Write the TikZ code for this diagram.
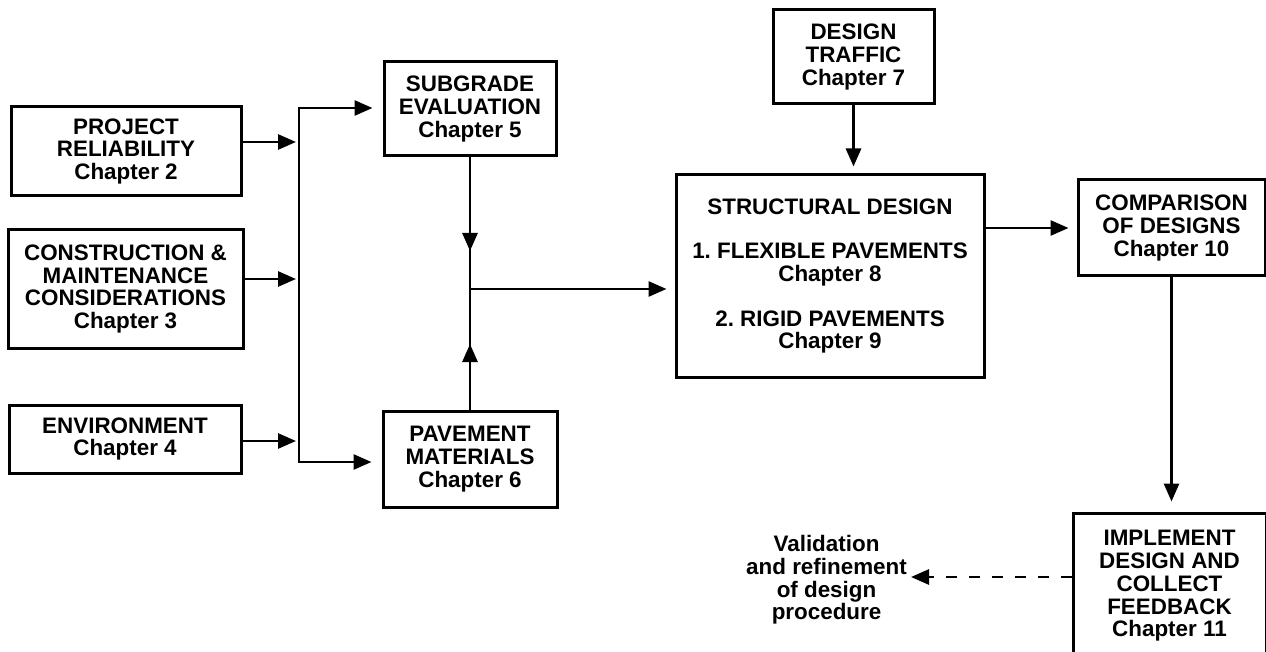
\documentclass[tikz,border=0pt]{standalone}
\usepackage{fontspec}
\setmainfont{Liberation Sans}
\usetikzlibrary{arrows.meta}
\tikzset{
  box/.style={draw, line width=3pt, align=center, inner sep=2pt, font=\bfseries\fontsize{22.4}{22.7}\selectfont},
  ln/.style={line width=2.8pt},
  arr/.style={line width=2.8pt, -{Triangle[length=18pt,width=15pt]}},
  txt/.style={align=center, inner sep=4pt, font=\bfseries\fontsize{22.4}{22.7}\selectfont},
}
\begin{document}
\frenchspacing
\begin{tikzpicture}[x=1pt,y=-1pt]
\useasboundingbox (0,0) rectangle (1266,652);
\clip (0,0) rectangle (1266,652);
\fill[white] (0,0) rectangle (1266,652);
% boxes
\node[box, minimum width=230pt, minimum height=89pt] (rel) at (126,151.5) {PROJECT\\RELIABILITY\\Chapter 2};
\node[box, minimum width=235pt, minimum height=118pt] (con) at (125.5,289) {CONSTRUCTION \&\\MAINTENANCE\\CONSIDERATIONS\\Chapter 3};
\node[box, minimum width=232pt, minimum height=68pt] (env) at (125,439) {ENVIRONMENT\\Chapter 4};
\node[box, minimum width=172pt, minimum height=94pt] (sub) at (470,109) {SUBGRADE\\EVALUATION\\Chapter 5};
\node[box, minimum width=174pt, minimum height=96pt] (pav) at (470,459) {PAVEMENT\\MATERIALS\\Chapter 6};
\node[box, minimum width=161pt, minimum height=94pt] (traf) at (853.5,57) {DESIGN\\TRAFFIC\\Chapter 7};
\node[box, minimum width=308pt, minimum height=202pt] (str) at (830,276) {STRUCTURAL DESIGN\\[22pt]1. FLEXIBLE PAVEMENTS\\Chapter 8\\[22pt]2. RIGID PAVEMENTS\\Chapter 9};
\node[box, minimum width=187pt, minimum height=96pt] (cmp) at (1171.5,228) {COMPARISON\\OF DESIGNS\\Chapter 10};
\node[box, minimum width=193pt, minimum height=146pt] (imp) at (1169.5,586) {IMPLEMENT\\DESIGN AND\\COLLECT\\FEEDBACK\\Chapter 11};
\node[txt, anchor=east] (val) at (911,580) {Validation\\and refinement\\of design\\procedure};
% bus coordinates
\coordinate (b1) at (299,142);
\coordinate (b2) at (299,279);
\coordinate (b3) at (299,441);
\coordinate (bt) at (299,108);
\coordinate (bb) at (299,462);
\coordinate (ja) at (470,251);
\coordinate (jb) at (470,344);
\coordinate (jn) at (470,289);
\coordinate (dd) at (1073,577);
% connectors
\draw[arr, shorten >=3pt] (rel.east |- b1) -- (b1);
\draw[arr, shorten >=3pt] (con.east |- b2) -- (b2);
\draw[arr, shorten >=3pt] (env.east |- b3) -- (b3);
\draw[arr, shorten >=10pt] (b2) -- (bt) -- (bt -| sub.west);
\draw[arr, shorten >=10pt] (b2) -- (bb) -- (bb -| pav.west);
\draw[ln] (sub.south) -- (pav.north);
\draw[arr] (sub.south) -- (ja);
\draw[arr] (pav.north) -- (jb);
\draw[arr, shorten >=8pt] (jn) -- (jn -| str.west);
\draw[arr, shorten >=7pt] (traf.south) -- (traf.south |- str.north);
\draw[arr, shorten >=8pt] (cmp.west -| str.east) -- (cmp.west);
\draw[arr, shorten >=10pt] (cmp.south) -- (cmp.south |- imp.north);
\draw[arr, dash pattern=on 11pt off 12pt] (imp.west |- dd) -- (val.east |- dd);
\end{tikzpicture}
\end{document}
